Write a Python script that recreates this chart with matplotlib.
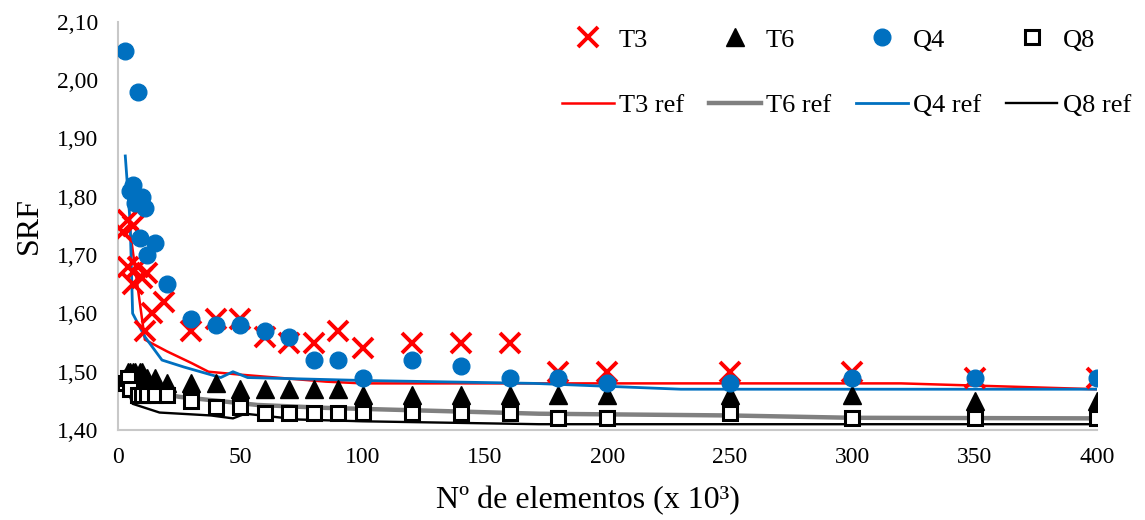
import matplotlib
matplotlib.use("Agg")
import matplotlib.pyplot as plt
from matplotlib.ticker import FuncFormatter, MultipleLocator

plt.rcParams['font.family'] = ['Liberation Serif', 'DejaVu Serif']

# ---- data ----
t3_x = [2, 4, 6, 4, 6, 8, 10, 12, 11, 14, 19, 30, 40, 50, 60, 70, 80, 90, 100, 120, 140, 160, 180, 200, 250, 300, 350, 400]
t3_y = [1.74, 1.76, 1.75, 1.68, 1.65, 1.68, 1.66, 1.67, 1.57, 1.60, 1.62, 1.57, 1.59, 1.59, 1.56, 1.55, 1.55, 1.57, 1.54, 1.55, 1.55, 1.55, 1.50, 1.50, 1.50, 1.50, 1.49, 1.49]

t6_x = [3, 4, 5, 6, 7, 8, 9, 10, 11, 12, 15, 20, 30, 40, 50, 60, 70, 80, 90, 100, 120, 140, 160, 180, 200, 250, 300, 350, 400]
t6_y = [1.49, 1.50, 1.50, 1.50, 1.50, 1.49, 1.50, 1.50, 1.49, 1.49, 1.49, 1.48, 1.48, 1.48, 1.47, 1.47, 1.47, 1.47, 1.47, 1.46, 1.46, 1.46, 1.46, 1.46, 1.46, 1.46, 1.46, 1.45, 1.45]

q4_x = [3, 5, 6, 7, 8, 9, 10, 11, 12, 15, 20, 30, 40, 50, 60, 70, 80, 90, 100, 120, 140, 160, 180, 200, 250, 300, 350, 400]
q4_y = [2.05, 1.81, 1.82, 1.79, 1.98, 1.73, 1.80, 1.78, 1.70, 1.72, 1.65, 1.59, 1.58, 1.58, 1.57, 1.56, 1.52, 1.52, 1.49, 1.52, 1.51, 1.49, 1.49, 1.48, 1.48, 1.49, 1.49, 1.49]

q8_x = [3, 4, 5, 8, 10, 12, 15, 20, 30, 40, 50, 60, 70, 80, 90, 100, 120, 140, 160, 180, 200, 250, 300, 350, 400]
q8_y = [1.48, 1.49, 1.47, 1.46, 1.46, 1.46, 1.46, 1.46, 1.45, 1.44, 1.44, 1.43, 1.43, 1.43, 1.43, 1.43, 1.43, 1.43, 1.43, 1.42, 1.42, 1.43, 1.42, 1.42, 1.42]

t3ref_x = [5, 11, 20, 30, 37, 50, 85, 100, 200, 320, 400]
t3ref_y = [1.74, 1.555, 1.535, 1.515, 1.50, 1.495, 1.483, 1.48, 1.48, 1.48, 1.47]

t6ref_x = [8, 25, 57, 85, 172, 250, 300, 400]
t6ref_y = [1.47, 1.457, 1.443, 1.438, 1.428, 1.425, 1.421, 1.42]

q4ref_x = [3, 5, 6, 11, 18, 27, 42, 47, 53, 100, 170, 230, 400]
q4ref_y = [1.87, 1.755, 1.60, 1.56, 1.52, 1.508, 1.49, 1.50, 1.49, 1.485, 1.48, 1.47, 1.47]

q8ref_x = [3, 6, 17, 38, 47, 52, 74, 100, 172, 400]
q8ref_y = [1.48, 1.445, 1.43, 1.425, 1.42, 1.428, 1.418, 1.415, 1.41, 1.41]

RED = '#FF0000'
BLUE = '#0070C0'
GRAY = '#808080'

fig = plt.figure(figsize=(11.45, 5.2), dpi=100)
ax = fig.add_axes([0.103, 0.173, 0.855, 0.785])

l_t3r, = ax.plot(t3ref_x, t3ref_y, color=RED, lw=1.8, zorder=2, label='T3 ref')
l_t6r, = ax.plot(t6ref_x, t6ref_y, color=GRAY, lw=3.2, zorder=2, label='T6 ref')
l_q4r, = ax.plot(q4ref_x, q4ref_y, color=BLUE, lw=2.0, zorder=2, label='Q4 ref')
l_q8r, = ax.plot(q8ref_x, q8ref_y, color='black', lw=1.7, zorder=2, label='Q8 ref')

m_t3, = ax.plot(t3_x, t3_y, ls='none', marker='x', ms=14, mew=2.8, color=RED, zorder=3, label='T3')
m_t6, = ax.plot(t6_x, t6_y, ls='none', marker='^', ms=13, color='black', zorder=4, label='T6')
m_q4, = ax.plot(q4_x, q4_y, ls='none', marker='o', ms=12, color=BLUE, zorder=5, label='Q4')
m_q8, = ax.plot(q8_x, q8_y, ls='none', marker='s', ms=10, mfc='white', mec='black', mew=2.2, zorder=6, label='Q8')

ax.set_xlim(0, 400)
ax.set_ylim(1.40, 2.10)
ax.xaxis.set_major_locator(MultipleLocator(50))
ax.yaxis.set_major_locator(MultipleLocator(0.10))
ax.yaxis.set_major_formatter(FuncFormatter(lambda v, p: f"{v:.2f}".replace('.', ',')))
ax.tick_params(axis='both', length=0, labelsize=17)
ax.tick_params(axis='x', pad=12)
ax.tick_params(axis='y', pad=14)
for s in ['top', 'right']:
    ax.spines[s].set_visible(False)
for s in ['left', 'bottom']:
    ax.spines[s].set_color('#C8C8C8')
    ax.spines[s].set_linewidth(1.5)

ax.set_ylabel('SRF', fontsize=23, va='center')
ax.set_xlabel('Nº de elementos (x 10³)', fontsize=23, va='center')
ax.yaxis.set_label_coords(-0.09, 0.5)
ax.xaxis.set_label_coords(0.48, -0.172)

handles = [m_t3, l_t3r, m_t6, l_t6r, m_q4, l_q4r, m_q8, l_q8r]
leg = fig.legend(handles=handles, labels=[h.get_label() for h in handles],
                 ncol=4, loc='upper right', bbox_to_anchor=(0.997, 0.966),
                 frameon=False, fontsize=19, handlelength=1.95, handletextpad=0.2,
                 columnspacing=0.95, labelspacing=1.6, borderaxespad=0.0)

fig.savefig('out.png', dpi=100)
